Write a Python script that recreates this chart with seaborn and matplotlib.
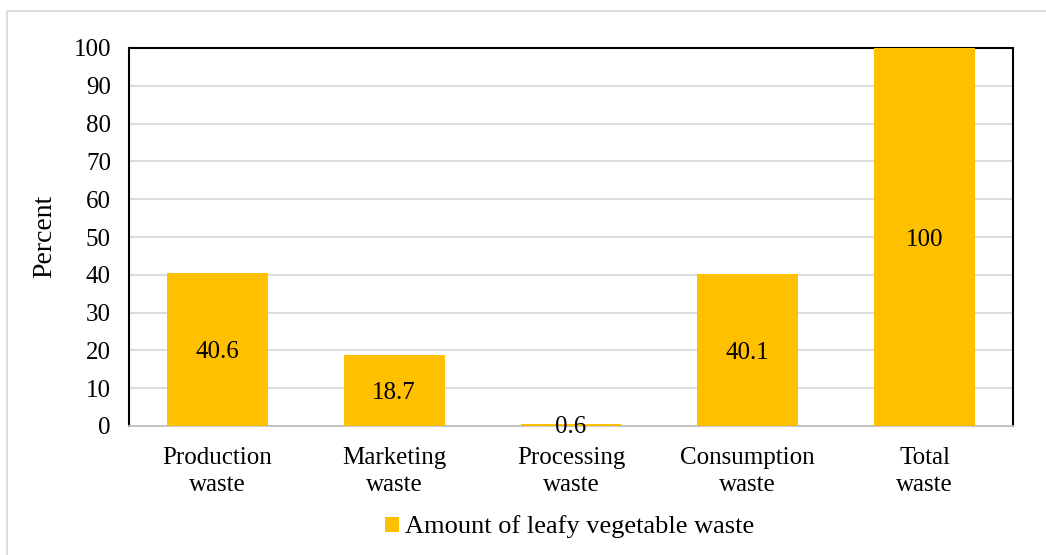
import matplotlib
matplotlib.use("Agg")
import matplotlib.pyplot as plt
import seaborn as sns
import pandas as pd
from matplotlib.patches import Rectangle

categories = ["Production\nwaste", "Marketing\nwaste", "Processing\nwaste", "Consumption\nwaste", "Total\nwaste"]
values = [40.6, 18.7, 0.6, 40.1, 100]
value_labels = ["40.6", "18.7", "0.6", "40.1", "100"]
series_name = "Amount of leafy vegetable waste"
y_ticks = [0, 10, 20, 30, 40, 50, 60, 70, 80, 90, 100]

sns.set_theme(style="white")
plt.rcParams["font.family"] = ["Liberation Serif", "DejaVu Serif"]
plt.rcParams["text.color"] = "black"
FS = 18

W, H = 1046, 555
fig = plt.figure(figsize=(W / 100, H / 100), dpi=100)
L, R, T, B = 129, 1013, 48, 426
ax = fig.add_axes([L / W, (H - B) / H, (R - L) / W, (B - T) / H])

df = pd.DataFrame({"cat": categories, "val": values})
sns.barplot(data=df, x="cat", y="val", color="#FFC000", saturation=1, width=0.57,
            linewidth=0, edgecolor="none", ax=ax, zorder=5)

ax.set_ylim(0, 100)
ax.set_xlim(-0.5, len(categories) - 0.5)
ax.set_yticks(y_ticks)
ax.set_yticklabels([str(t) for t in y_ticks], fontsize=FS, color="black")
ax.yaxis.grid(True, color="#D9D9D9", linewidth=1.3, zorder=0)
ax.set_axisbelow(True)
ax.tick_params(axis="y", length=0, pad=13)
ax.tick_params(axis="x", which="major", length=0, pad=15, labelsize=FS, labelcolor="black")
for t in ax.get_xticklabels():
    t.set_linespacing(1.3)
ax.set_xticks([i - 0.5 for i in range(len(categories) + 1)], minor=True)
ax.tick_params(axis="x", which="minor", length=6, width=1.2, color="#BFBFBF", direction="out")
ax.set_xlabel("")
ax.set_ylabel("Percent", fontsize=20, color="black")
ax.yaxis.set_label_coords((45 - L) / (R - L), (B - 236) / (B - T))
ax.yaxis.label.set_va("center")
for side in ["left", "top", "right"]:
    ax.spines[side].set_visible(True)
    ax.spines[side].set_color("black")
    ax.spines[side].set_linewidth(1.5)
ax.spines["bottom"].set_color("#BFBFBF")
ax.spines["bottom"].set_linewidth(1.3)
ax.spines["bottom"].set_zorder(4)

for bar, lab in zip(ax.patches, value_labels):
    h = bar.get_height()
    ax.text(bar.get_x() + bar.get_width() / 2, h / 2, lab, ha="center", va="center_baseline",
            fontsize=FS, color="black", zorder=6)

leg = ax.legend(handles=[ax.containers[0]], labels=[series_name], loc="center",
                bbox_to_anchor=(570 / W, (H - 527) / H), bbox_transform=fig.transFigure,
                frameon=False, fontsize=19, handlelength=0.5, handleheight=0.5,
                handletextpad=0.25, borderpad=0, labelcolor="black")

fig.patches.append(Rectangle((7 / W, -0.01), 1.02, (H - 11) / H + 0.01,
                             transform=fig.transFigure, fill=False,
                             edgecolor="#D9D9D9", linewidth=1.3))

fig.savefig("out.png", dpi=100)
